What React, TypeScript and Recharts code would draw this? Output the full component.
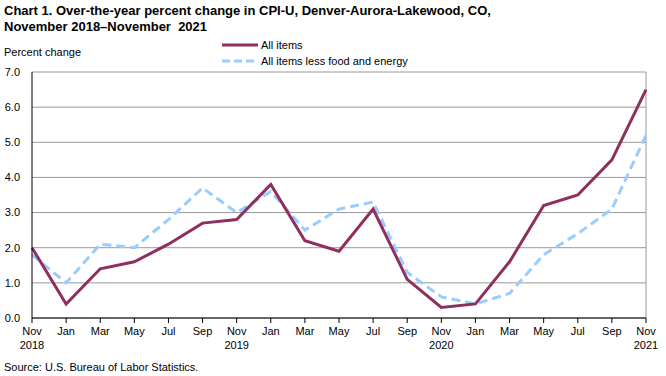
import React from 'react';
import { LineChart, Line, XAxis, YAxis, CartesianGrid, ReferenceLine } from 'recharts';

const months = ['Nov', 'Jan', 'Mar', 'May', 'Jul', 'Sep', 'Nov', 'Jan', 'Mar', 'May', 'Jul', 'Sep', 'Nov', 'Jan', 'Mar', 'May', 'Jul', 'Sep', 'Nov'];
const years = ['2018', '', '', '', '', '', '2019', '', '', '', '', '', '2020', '', '', '', '', '', '2021'];
const allItems = [2.0, 0.4, 1.4, 1.6, 2.1, 2.7, 2.8, 3.8, 2.2, 1.9, 3.1, 1.1, 0.3, 0.4, 1.6, 3.2, 3.5, 4.5, 6.5];
const lessFoodEnergy = [1.8, 1.0, 2.1, 2.0, 2.8, 3.7, 3.0, 3.6, 2.5, 3.1, 3.3, 1.3, 0.6, 0.4, 0.7, 1.8, 2.4, 3.1, 5.2];
const yTicks = [0, 1, 2, 3, 4, 5, 6, 7];

const data = months.map((m, i) => ({
  key: i,
  month: m,
  year: years[i],
  all: allItems[i],
  core: lessFoodEnergy[i],
}));

const FONT = '"Liberation Sans", Arial, sans-serif';
const MAROON = '#8E2F5E';
const BLUE = '#99CCFF';

const XTick = (props: any) => {
  const { x, y, payload } = props;
  const d = data[payload.value];
  return (
    <g>
      <text x={x} y={y + 10} textAnchor="middle" fontSize={11} fontFamily={FONT} fill="#000">{d.month}</text>
      {d.year ? (
        <text x={x} y={y + 24} textAnchor="middle" fontSize={11} fontFamily={FONT} fill="#000">{d.year}</text>
      ) : null}
    </g>
  );
};

export default function App() {
  return (
    <div style={{ position: 'absolute', left: 0, top: 0, width: 666, height: 376, background: '#fff', fontFamily: FONT }}>
      <div style={{ position: 'absolute', left: 4, top: 3, fontSize: 13, fontWeight: 'bold', lineHeight: '16px', color: '#000' }}>
        Chart 1. Over-the-year percent change in CPI-U, Denver-Aurora-Lakewood, CO,<br />November 2018–November&nbsp;&nbsp;2021
      </div>
      <div style={{ position: 'absolute', left: 4, top: 46, fontSize: 11, color: '#000' }}>Percent change</div>
      <div style={{ position: 'absolute', left: 222, top: 37, fontSize: 11, color: '#000' }}>
        <div style={{ display: 'flex', alignItems: 'center', height: 16 }}>
          <svg width={36} height={6}><line x1={0} y1={3} x2={36} y2={3} stroke={MAROON} strokeWidth={3} /></svg>
          <span style={{ marginLeft: 3 }}>All items</span>
        </div>
        <div style={{ display: 'flex', alignItems: 'center', height: 16 }}>
          <svg width={36} height={6}><line x1={0} y1={3} x2={36} y2={3} stroke={BLUE} strokeWidth={3} strokeDasharray="8 4" /></svg>
          <span style={{ marginLeft: 3 }}>All items less food and energy</span>
        </div>
      </div>
      <div style={{ position: 'absolute', left: 4, top: 361, fontSize: 11, color: '#000' }}>Source: U.S. Bureau of Labor Statistics.</div>
      <LineChart width={666} height={376} data={data} margin={{ top: 72, right: 20, bottom: 18, left: 0 }}>
        <CartesianGrid horizontal={true} vertical={false} stroke="#999" strokeWidth={1} />
        <ReferenceLine x={18} stroke="#999" strokeWidth={1} />
        <XAxis
          dataKey="key"
          type="category"
          interval={0}
          tick={<XTick />}
          tickLine={{ stroke: '#000' }}
          tickSize={5}
          axisLine={{ stroke: '#000' }}
          height={40}
          padding={{ left: 0, right: 0 }}
        />
        <YAxis
          domain={[0, 7]}
          ticks={yTicks}
          tickFormatter={(v: number) => v.toFixed(1)}
          tick={{ fontSize: 11, fill: '#000', fontFamily: FONT }}
          tickLine={false}
          axisLine={{ stroke: '#000' }}
          width={32}
          tickMargin={6}
          interval={0}
        />
        <Line type="linear" dataKey="core" stroke={BLUE} strokeWidth={3} strokeDasharray="9 5" dot={false} isAnimationActive={false} />
        <Line type="linear" dataKey="all" stroke={MAROON} strokeWidth={3} dot={false} isAnimationActive={false} />
      </LineChart>
    </div>
  );
}
